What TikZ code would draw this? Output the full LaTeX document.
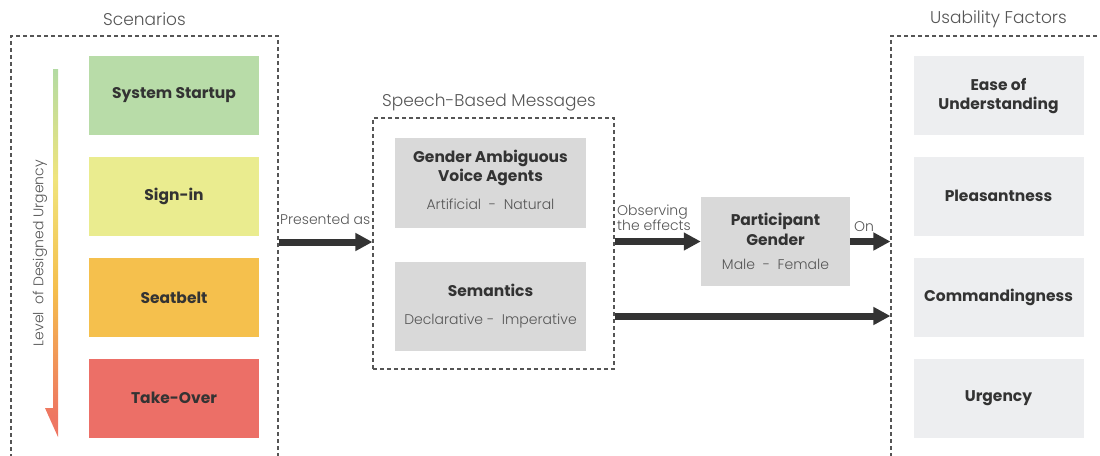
\documentclass[tikz,border=0pt]{standalone}
\usepackage{fontspec}
\setmainfont{Poppins}[BoldFont={Poppins Bold}]
\newfontfamily\poplight{Poppins Light}
\usetikzlibrary{arrows.meta}

\definecolor{cgreen}{HTML}{B8DCA8}
\definecolor{cyellow}{HTML}{EAEC8F}
\definecolor{corange}{HTML}{F5C04D}
\definecolor{cred}{HTML}{EC6F67}
\definecolor{cgray}{HTML}{D9D9D9}
\definecolor{clight}{HTML}{EDEEF0}
\definecolor{cdark}{HTML}{333333}
\definecolor{ctext}{HTML}{555555}
\definecolor{ugreen}{HTML}{B3DBA3}
\definecolor{uyellow}{HTML}{F0E47C}
\definecolor{uorange}{HTML}{F5BE4C}
\definecolor{ured}{HTML}{EE7662}

% vertical colour ramp for the urgency arrow (bottom to top)
\pgfdeclareverticalshading{urgramp}{100bp}{%
  color(0bp)=(ured); color(28bp)=(ured); color(45bp)=(uorange);
  color(60bp)=(uyellow); color(75bp)=(ugreen); color(100bp)=(ugreen)}

\tikzset{
  boldlbl/.style={font=\bfseries\fontsize{15.5}{20}\selectfont, text=cdark},
  lightlbl/.style={font=\poplight\mdseries\fontsize{14}{16}\selectfont, text=ctext},
  titlelbl/.style={font=\poplight\mdseries\fontsize{17}{19}\selectfont, text=ctext},
  edgelbl/.style={font=\poplight\mdseries\fontsize{14}{15}\selectfont, text=ctext, inner sep=1pt},
  scen/.style={boldlbl, minimum width=170pt, minimum height=79pt, inner sep=0pt},
  factor/.style={scen, fill=clight, align=center},
  msgbox/.style={fill=cgray, minimum width=191pt, inner sep=0pt, align=center, boldlbl},
  group/.style={draw=ctext, line width=1.1pt, dash pattern=on 4pt off 3pt, inner sep=0pt},
  flow/.style={draw=cdark, line width=7pt, -{Triangle[length=17pt,width=17pt]}},
}

\newcommand{\lite}[1]{{\poplight\mdseries\fontsize{14}{16}\selectfont\color{ctext}#1}}

\begin{document}
\begin{tikzpicture}[x=1pt,y=-1pt]
\useasboundingbox (0,0) rectangle (1100,455);

% group frames
\node[group, minimum width=267pt, minimum height=434pt] (scenG) at (144.5,253) {};
\node[group, minimum width=241pt, minimum height=251pt] (speechG) at (493.5,243.5) {};
\node[group, minimum width=229pt, minimum height=434pt] (usabG) at (1005.5,253) {};

% scenarios
\node[scen, fill=cgreen]  (startup)  at (174,95.5)  {System Startup};
\node[scen, fill=cyellow] (signin)   at (174,196)   {Sign-in};
\node[scen, fill=corange] (seatbelt) at (174,297.5) {Seatbelt};
\node[scen, fill=cred]    (takeover) at (174,398)   {Take-Over};

% urgency arrow
\shade[shading=urgramp] (53,69) -- (58,69) -- (58,437) -- (45,408) -- (53,408) -- cycle;
\node[lightlbl, rotate=90] (urglbl) at (40,253) {Level\ \ of Designed Urgency};

% speech-based messages
\node[msgbox, minimum height=90pt] (gender) at (490.5,183)
  {Gender Ambiguous\\[-1pt]Voice Agents\\[8pt]\lite{Artificial\ \ -\ \ Natural}\\[-14pt]\mbox{}};
\node[msgbox, minimum height=89pt] (semantics) at (490.5,306.5)
  {Semantics\\[8pt]\lite{Declarative -\ \ Imperative}};

% participant gender
\node[msgbox, minimum width=149pt, minimum height=89pt] (partic) at (775.5,241.5)
  {Participant\\Gender\\[4pt]\lite{Male\ \ -\ \ Female}};

% usability factors
\node[factor] (ease)    at (998.5,95.5)  {Ease of\\[-1pt]Understanding\\[-16pt]\mbox{}};
\node[factor] (pleas)   at (998.5,196)   {Pleasantness};
\node[factor] (command) at (998.5,297.5) {Commandingness};
\node[factor] (urgency) at (998.5,398)   {Urgency};

% group titles
\node[titlelbl] (scenT) at (144.5,19) {Scenarios};
\node[titlelbl] (speechT) at (489,102) {Speech-Based Messages};
\node[titlelbl] (usabT) at (998.5,19) {Usability Factors};

% connectors
\coordinate (yA) at (0,242);
\coordinate (yB) at (0,316);
\draw[flow] (scenG.east |- yA) -- (speechG.west |- yA);
\draw[flow] (speechG.east |- partic.west) -- (partic.west);
\draw[flow] (partic.east) -- (usabG.west |- partic.east);
\draw[flow] (speechG.east |- yB) -- (usabG.west |- yB);

% connector labels
\node[edgelbl, anchor=south west] (presLbl) at (279,226) {Presented as};
\node[edgelbl, anchor=south west, align=left] (obsLbl) at (616,232) {Observing\\the effects};
\node[edgelbl, anchor=south west] (onLbl) at (853,233) {On};
\end{tikzpicture}
\end{document}
